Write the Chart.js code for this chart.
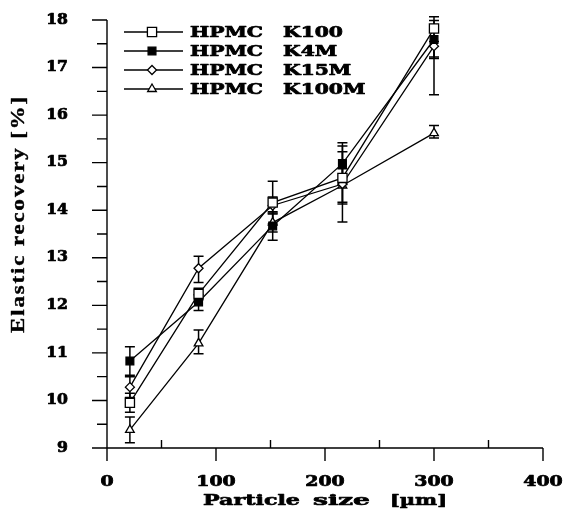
<!DOCTYPE html>
<html>
<head>
<meta charset="utf-8">
<script src="https://cdn.jsdelivr.net/npm/chart.js@4.4.0/dist/chart.umd.min.js"></script>
<style>
html,body{margin:0;padding:0;background:#fff;}
#wrap{width:567px;height:513px;position:relative;}
</style>
</head>
<body>
<div id="wrap"><canvas id="c" width="567" height="513"></canvas></div>
<script>
// ---- data ----
const particleSize = [21, 84, 152, 216, 300];
const seriesNames = ['K100', 'K4M', 'K15M', 'K100M'];
const k100   = [9.95, 12.24, 14.16, 14.68, 17.82];
const k4m    = [10.83, 12.07, 13.67, 14.98, 17.59];
const k15m   = [10.28, 12.78, 14.10, 14.55, 17.45];
const k100m  = [9.38, 11.20, 13.74, 14.52, 15.62];
const k100ErrUp    = [0.20, 0.12, 0.45, 0.55, 0.25];
const k100ErrDown  = [0.20, 0.12, 0.45, 0.55, 0.60];
const k4mErrUp     = [0.30, 0.15, 0.30, 0.44, 0.40];
const k4mErrDown   = [0.30, 0.18, 0.30, 0.44, 0.40];
const k15mErrUp    = [0.22, 0.25, 0.18, 0.80, 0.10];
const k15mErrDown  = [0.22, 0.30, 0.18, 0.80, 1.02];
const k100mErrUp   = [0.27, 0.28, 0.20, 0.35, 0.16];
const k100mErrDown = [0.27, 0.22, 0.20, 0.35, 0.10];
const xTicks = [0, 100, 200, 300, 400];
const yTicks = [9, 10, 11, 12, 13, 14, 15, 16, 17, 18];
const xTitleWords = ['Particle', 'size', '[\u00b5m]'];
const yTitle = 'Elastic recovery [%]';

const values = [k100, k4m, k15m, k100m];
const errUp = [k100ErrUp, k4mErrUp, k15mErrUp, k100mErrUp];
const errDown = [k100ErrDown, k4mErrDown, k15mErrDown, k100mErrDown];
const styles = [
  {pointStyle:'rect', radius:6.5, bg:'#fff'},
  {pointStyle:'rect', radius:5.5, bg:'#000'},
  {pointStyle:'rectRot', radius:4.5, bg:'#fff'},
  {pointStyle:'triangle', radius:5, bg:'#fff'}
];

const datasets = values.map((v, i) => ({
  label: 'HPMC ' + seriesNames[i],
  data: particleSize.map((x, j) => ({x: x, y: v[j]})),
  borderColor: '#000',
  borderWidth: 1.3,
  backgroundColor: styles[i].bg,
  pointStyle: styles[i].pointStyle,
  pointRadius: styles[i].radius,
  pointBorderColor: '#000',
  pointBackgroundColor: styles[i].bg,
  pointBorderWidth: 1.3,
  showLine: true,
  fill: false,
  tension: 0
}));

function heavyText(ctx, text, x, y, font, sx, align, stroke, spacing) {
  ctx.save();
  ctx.font = font;
  ctx.letterSpacing = (spacing || 0) + 'px';
  ctx.textBaseline = 'middle';
  ctx.textAlign = 'left';
  const w = ctx.measureText(text).width * sx;
  let x0 = x;
  if (align === 'center') x0 = x - w / 2;
  else if (align === 'right') x0 = x - w;
  ctx.translate(x0, y);
  ctx.scale(sx, 1);
  ctx.fillStyle = '#000';
  ctx.strokeStyle = '#000';
  ctx.lineWidth = stroke;
  ctx.lineJoin = 'round';
  ctx.fillText(text, 0, 0);
  if (stroke > 0) ctx.strokeText(text, 0, 0);
  ctx.restore();
}
function fitScale(ctx, text, font, width, spacing) {
  ctx.save(); ctx.font = font; ctx.letterSpacing = (spacing || 0) + 'px';
  const m = ctx.measureText(text).width;
  ctx.restore();
  return width / m;
}

const errorBars = {
  id: 'errorBars',
  beforeDatasetsDraw(chart) {
    const ctx = chart.ctx, xs = chart.scales.x, ys = chart.scales.y;
    ctx.save();
    ctx.strokeStyle = '#000';
    ctx.lineWidth = 1.5;
    values.forEach((v, i) => {
      particleSize.forEach((xv, j) => {
        const px = xs.getPixelForValue(xv);
        const top = ys.getPixelForValue(v[j] + errUp[i][j]);
        const bot = ys.getPixelForValue(v[j] - errDown[i][j]);
        ctx.beginPath();
        ctx.moveTo(px, top); ctx.lineTo(px, bot);
        ctx.moveTo(px - 5, top); ctx.lineTo(px + 5, top);
        ctx.moveTo(px - 5, bot); ctx.lineTo(px + 5, bot);
        ctx.stroke();
      });
    });
    ctx.restore();
  }
};

const axesPlugin = {
  id: 'axesDraw',
  afterDraw(chart) {
    const ctx = chart.ctx, xs = chart.scales.x, ys = chart.scales.y;
    const a = chart.chartArea;
    ctx.save();
    ctx.strokeStyle = '#000';
    ctx.lineWidth = 1.4;
    ctx.beginPath();
    ctx.moveTo(a.left, a.top); ctx.lineTo(a.left, a.bottom);
    ctx.moveTo(a.left, a.bottom); ctx.lineTo(a.right, a.bottom);
    for (let v = ys.min; v <= ys.max + 1e-9; v += 0.5) {
      const py = ys.getPixelForValue(v);
      const major = Math.abs(v - Math.round(v)) < 1e-9;
      ctx.moveTo(a.left - (major ? 15 : 10), py); ctx.lineTo(a.left, py);
    }
    for (let v = xs.min; v <= xs.max + 1e-9; v += 50) {
      const px = xs.getPixelForValue(v);
      if (v % 100 === 0) { ctx.moveTo(px, a.bottom); ctx.lineTo(px, a.bottom + 13); }
      else { ctx.moveTo(px, a.bottom); ctx.lineTo(px, a.bottom - 8); }
    }
    ctx.stroke();

    // tick labels
    const tf = 'bold 14px "DejaVu Serif"';
    yTicks.forEach(v => heavyText(ctx, String(v), a.left - 39, ys.getPixelForValue(v), tf, 1.12, 'right', 0.7));
    xTicks.forEach(v => heavyText(ctx, String(v), xs.getPixelForValue(v), a.bottom + 34, tf, 1.35, 'center', 0.7));

    // x title: each word fitted to its extent in the reference
    const xf = 'bold 14px "DejaVu Serif"';
    const xPos = [203, 313, 390];
    const xW = [97, 57, 57];
    xTitleWords.forEach((w, i) => heavyText(ctx, w, xPos[i], 501, xf, fitScale(ctx, w, xf, xW[i]), 'left', 0.6));

    // y title (rotated)
    ctx.save();
    ctx.translate(19, 214);
    ctx.rotate(-Math.PI / 2);
    const yf = 'bold 18px "Liberation Serif"';
    const ysx = fitScale(ctx, yTitle, yf, 238, 1.5);
    heavyText(ctx, yTitle, 0, 0, yf, ysx, 'center', 0.4, 1.5);
    ctx.restore();

    // legend
    const rowY = [32, 51, 70, 89];
    const lf = 'bold 14px "DejaVu Serif"';
    const lsx = fitScale(ctx, 'HPMC', lf, 73);
    rowY.forEach((y, i) => {
      ctx.beginPath();
      ctx.strokeStyle = '#000';
      ctx.lineWidth = 1.3;
      ctx.moveTo(124, y); ctx.lineTo(183, y);
      ctx.stroke();
      ctx.fillStyle = styles[i].bg;
      ctx.strokeStyle = '#000';
      ctx.lineWidth = 1.3;
      Chart.helpers.drawPoint(ctx, {
        pointStyle: styles[i].pointStyle, radius: styles[i].radius, rotation: 0, borderWidth: 1.3
      }, 152, y);
      heavyText(ctx, 'HPMC', 190, y + 1, lf, lsx, 'left', 0.7);
      heavyText(ctx, seriesNames[i], 283, y + 1, lf, lsx, 'left', 0.7);
    });
    ctx.restore();
  }
};

new Chart(document.getElementById('c'), {
  type: 'scatter',
  data: { datasets },
  options: {
    responsive: false,
    animation: false,
    layout: { padding: { top: 20, right: 24, left: 107, bottom: 65 } },
    plugins: { legend: { display: false }, tooltip: { enabled: false } },
    scales: {
      x: { type: 'linear', min: 0, max: 400, display: false },
      y: { type: 'linear', min: 9, max: 18, display: false }
    }
  },
  plugins: [errorBars, axesPlugin]
});
</script>
</body>
</html>
